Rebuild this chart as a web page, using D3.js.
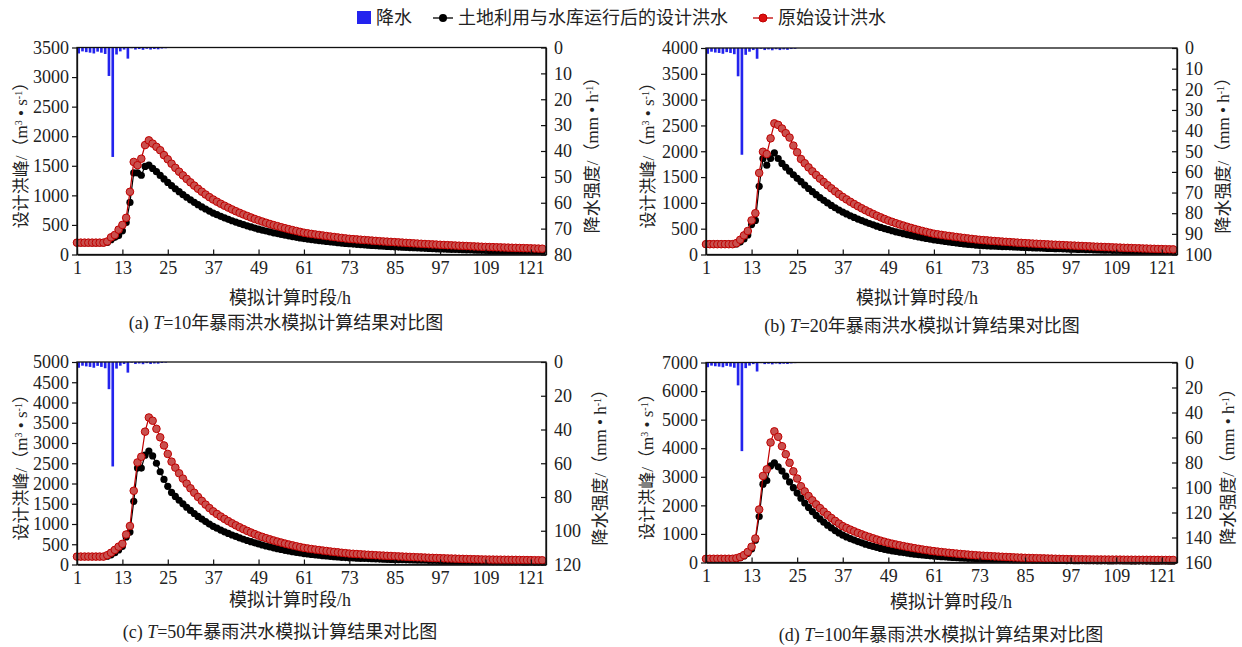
<!DOCTYPE html>
<html>
<head>
<meta charset="utf-8">
<script src="https://cdn.jsdelivr.net/npm/d3@7"></script>
<style>
body { margin: 0; background: #fff; }
svg text { font-family: "Liberation Serif", "Noto Sans CJK SC", serif; fill: #222; }
</style>
</head>
<body>
<div id="chart"></div>
<script>
//Simulation hours, one per point
var hours = [];
for (var h = 1; h <= 124; h++) hours.push(h);
var xTickValues = [1, 13, 25, 37, 49, 61, 73, 85, 97, 109, 121];

//Rain intensity per hour (mm/h), hours 1-24
var rainA = [2.3, 1.5, 1.8, 2.0, 2.3, 1.6, 2.0, 2.5, 11.0, 42.3, 2.7, 1.5, 0.8, 4.3, 0.3, 0.8, 0.6, 0.9, 0.5, 0.8, 0.6, 0.7, 0.4, 0.3];
var rainB = [2.8, 1.8, 2.2, 2.4, 2.8, 2.0, 2.4, 3.0, 13.7, 51.7, 3.3, 1.8, 1.0, 5.2, 0.4, 1.0, 0.7, 1.1, 0.6, 1.0, 0.7, 0.9, 0.5, 0.4];
var rainC = [3.4, 2.2, 2.6, 2.9, 3.4, 2.3, 2.9, 3.7, 16.1, 61.9, 3.9, 2.2, 1.2, 6.3, 0.4, 1.2, 0.9, 1.3, 0.7, 1.2, 0.9, 1.0, 0.6, 0.4];
var rainD = [3.8, 2.5, 3.0, 3.3, 3.8, 2.7, 3.3, 4.2, 18.3, 70.9, 4.5, 2.5, 1.3, 7.2, 0.5, 1.3, 1.0, 1.5, 0.8, 1.3, 1.0, 1.2, 0.7, 0.5];

//Original design flood (red) and flood after land use + reservoirs (black), m3/s
var flowOrigA = [200,200,200,200,200,200,200,200,
 220,290,330,420,500,620,
 1060,1565,1510,1620,1850,1930,
 1875,1820,1763,1680,1610,1535,
 1465,1400,1338,1278,1220,1165,1112,1062,1014,970,930,
 893,858,825,793,762,732,704,677,651,626,601,578,
 557,536,516,497,479,461,444,428,412,397,382,368,
 358,348,339,330,321,312,304,296,288,280,272,265,
 260,255,250,245,240,235,230,225,221,217,213,209,
 205,201,197,193,189,185,181,177,174,171,168,164,
 161,158,155,152,149,146,143,140,137,134,131,128,
 126,124,122,120,118,116,114,112,110,108,106,104,102,100,98];
var flowLandA = [200,200,200,200,200,200,200,200,
 205,250,290,320,400,540,
 880,1380,1380,1340,1490,1510,
 1455,1400,1337,1277,1219,1164,
 1112,1062,1014,968,925,883,843,805,769,734,701,
 673,646,620,595,571,548,526,505,485,466,447,429,
 413,397,382,367,353,340,327,315,303,291,280,269,
 260,252,244,236,228,221,214,207,200,194,188,182,
 177,172,167,162,157,153,149,145,141,137,133,129,
 126,123,120,117,114,111,108,105,102,99,96,93,
 91,89,87,85,83,81,79,77,75,73,71,69,
 68,67,66,65,64,63,62,61,60,59,58,57,56,55,54];

var flowOrigB = [200,200,200,200,200,200,200,200,
 220,285,370,455,660,800,
 1580,1990,1945,2250,2540,2510,
 2440,2350,2265,2110,1980,1850,
 1767,1687,1611,1539,1470,1404,1341,1281,1223,1168,1115,
 1067,1021,977,935,895,857,820,785,751,719,688,658,
 632,606,582,559,536,515,494,474,455,437,419,402,
 391,380,369,359,349,339,329,320,311,302,293,285,
 279,273,267,261,256,250,245,240,235,230,225,220,
 216,212,208,204,200,196,192,189,185,182,178,175,
 172,168,165,161,158,154,151,148,145,142,139,136,
 133,130,128,125,122,120,117,115,112,110,107,105,103,101,99];
var flowLandB = [200,200,200,200,200,200,200,200,
 205,240,300,380,580,660,
 1320,1860,1730,1860,1970,1860,
 1765,1690,1615,1545,1475,1410,
 1342,1278,1217,1158,1103,1050,999,951,906,862,821,
 785,751,718,687,657,628,600,574,549,525,502,480,
 460,440,421,403,386,370,354,339,325,311,298,285,
 274,263,252,242,232,223,214,205,197,189,182,175,
 171,168,164,161,157,154,151,148,145,142,139,136,
 133,130,127,124,121,118,116,113,111,109,106,104,
 102,99,97,95,92,90,88,86,84,82,80,78,
 77,76,75,74,73,72,71,70,69,68,67,66,65,64,63];

var flowOrigC = [195,195,195,195,195,195,195,195,
 230,290,360,440,510,740,
 950,1820,2520,2660,3280,3630,
 3550,3350,3140,2940,2730,2540,
 2392,2252,2121,1997,1881,1771,1668,1571,1479,1393,1312,
 1247,1185,1126,1070,1017,967,919,873,830,789,750,713,
 681,650,621,593,566,541,516,493,471,450,429,410,
 396,382,369,357,344,333,321,310,300,289,280,270,
 264,258,252,246,240,235,229,224,219,214,210,205,
 200,196,192,187,183,179,175,171,167,163,160,156,
 153,150,147,144,141,138,135,132,130,128,125,123,
 121,120,119,118,117,116,115,114,112,110,109,107,106,105,104];
var flowLandC = [195,195,195,195,195,195,195,195,
 205,240,290,360,450,680,
 800,1560,2380,2380,2700,2800,
 2680,2500,2290,2100,1930,1780,
 1680,1586,1497,1413,1334,1259,1188,1122,1059,999,943,
 896,851,808,767,729,692,657,624,593,563,535,508,
 482,457,434,412,390,370,351,333,316,300,285,270,
 259,248,238,229,219,210,202,194,186,178,171,164,
 160,156,153,149,146,142,139,135,132,129,126,123,
 121,119,116,114,112,110,108,106,104,102,100,98,
 96,94,92,90,88,86,84,82,80,78,76,74,
 73,72,71,70,69,68,67,66,65,64,63,62,61,60,59];

var flowOrigD = [130,130,130,130,130,130,130,130,
 150,190,260,370,550,840,
 1855,3030,3260,4200,4590,4400,
 4070,3790,3490,3190,2940,2670,
 2488,2327,2176,2035,1903,1780,1665,1557,1456,1362,1272,
 1209,1149,1091,1037,985,936,890,845,803,763,725,689,
 658,628,600,573,547,523,499,477,455,435,415,397,
 381,366,352,338,325,312,300,288,276,265,255,245,
 237,229,221,214,207,200,193,187,180,174,169,163,
 159,155,151,147,143,139,135,131,127,124,120,117,
 115,113,111,109,108,106,105,104,103,102,101,100,
 99,98,97,97,96,95,94,93,93,92,91,90,89,89,88];
var flowLandD = [130,130,130,130,130,130,130,130,
 140,170,230,320,470,780,
 1610,2740,2870,3380,3490,3350,
 3200,3020,2820,2620,2430,2250,
 2082,1926,1782,1649,1526,1412,1306,1209,1118,1035,957,
 896,838,785,734,687,643,602,563,527,494,462,432,
 409,387,366,346,327,310,293,277,262,248,235,222,
 212,202,193,185,176,168,161,154,147,140,134,128,
 125,121,118,115,112,109,106,103,100,97,94,90,
 88,86,84,82,80,78,76,74,72,70,68,66,
 65,64,63,62,61,60,59,58,57,56,55,54,
 53,52,52,51,51,50,50,49,49,48,48,47,47,46,46];

//Axis ticks per panel
var flowTicksA = [0,500,1000,1500,2000,2500,3000,3500];
var flowTicksB = [0,500,1000,1500,2000,2500,3000,3500,4000];
var flowTicksC = [0,500,1000,1500,2000,2500,3000,3500,4000,4500,5000];
var flowTicksD = [0,1000,2000,3000,4000,5000,6000,7000];
var rainTicksA = [0,10,20,30,40,50,60,70,80];
var rainTicksB = [0,10,20,30,40,50,60,70,80,90,100];
var rainTicksC = [0,20,40,60,80,100,120];
var rainTicksD = [0,20,40,60,80,100,120,140,160];

var captions = ["(a) ", "(b) ", "(c) ", "(d) "];
var returnPeriods = ["10", "20", "50", "100"];

var blueColor = "#2323ee";
var redLine = "#c00000";
var redFill = "#c9504e";

var svg = d3.select("#chart").append("svg")
	.attr("width", 1242)
	.attr("height", 647);

//Panel layout (pixel boxes)
var panels = [
	{left: 77, right: 546, top: 47.5, bottom: 254.5, rain: rainA, orig: flowOrigA, land: flowLandA,
	 flowTicks: flowTicksA, rainTicks: rainTicksA, yTitleL: 21, yTitleR: 592, xTitleX: 290, xTitleY: 304, capX: 286, capY: 329},
	{left: 706, right: 1177, top: 48, bottom: 254.5, rain: rainB, orig: flowOrigB, land: flowLandB,
	 flowTicks: flowTicksB, rainTicks: rainTicksB, yTitleL: 648, yTitleR: 1223, xTitleX: 917, xTitleY: 304, capX: 922, capY: 332},
	{left: 77, right: 546, top: 362, bottom: 564.5, rain: rainC, orig: flowOrigC, land: flowLandC,
	 flowTicks: flowTicksC, rainTicks: rainTicksC, yTitleL: 21, yTitleR: 600, xTitleX: 290, xTitleY: 606, capX: 280, capY: 638},
	{left: 706, right: 1177, top: 362.5, bottom: 562.5, rain: rainD, orig: flowOrigD, land: flowLandD,
	 flowTicks: flowTicksD, rainTicks: rainTicksD, yTitleL: 647, yTitleR: 1228, xTitleX: 951, xTitleY: 608, capX: 941, capY: 641}
];

function drawPanel(p, idx)
{
	var x = d3.scaleLinear().domain([1, 125]).range([p.left, p.right]);
	var yFlow = d3.scaleLinear().domain([0, d3.max(p.flowTicks)]).range([p.bottom, p.top]);
	var yRain = d3.scaleLinear().domain([0, d3.max(p.rainTicks)]).range([p.top, p.bottom]);
	var step = x(2) - x(1);
	var g = svg.append("g");

	//Rain bars hang from the top
	g.selectAll(".rainBar")
		.data(p.rain)
		.enter()
		.append("rect")
		.attr("class", "rainBar")
		.attr("x", function(d, i){ return x(hours[i]) + step * 0.1; })
		.attr("y", p.top)
		.attr("width", step * 0.7)
		.attr("height", function(d){ return yRain(d) - p.top; })
		.attr("fill", blueColor);

	var line = d3.line()
		.x(function(d, i){ return x(hours[i]); })
		.y(function(d){ return yFlow(d); });

	//Black series first, red on top
	g.append("path")
		.datum(p.land)
		.attr("fill", "none")
		.attr("stroke", "#000")
		.attr("stroke-width", 1.2)
		.attr("d", line);
	g.selectAll(".landDot")
		.data(p.land)
		.enter()
		.append("circle")
		.attr("class", "landDot")
		.attr("cx", function(d, i){ return x(hours[i]); })
		.attr("cy", function(d){ return yFlow(d); })
		.attr("r", 3.6)
		.attr("fill", "#000");

	g.append("path")
		.datum(p.orig)
		.attr("fill", "none")
		.attr("stroke", redLine)
		.attr("stroke-width", 1.2)
		.attr("d", line);
	g.selectAll(".origDot")
		.data(p.orig)
		.enter()
		.append("circle")
		.attr("class", "origDot")
		.attr("cx", function(d, i){ return x(hours[i]); })
		.attr("cy", function(d){ return yFlow(d); })
		.attr("r", 3.8)
		.attr("fill", redFill)
		.attr("stroke", redLine)
		.attr("stroke-width", 1);

	//Frame
	g.append("rect")
		.attr("x", p.left)
		.attr("y", p.top)
		.attr("width", p.right - p.left)
		.attr("height", p.bottom - p.top)
		.attr("fill", "none")
		.attr("stroke", "#111")
		.attr("stroke-width", 1.3);

	//Axes
	var fmt = d3.format("d");
	var axL = g.append("g")
		.attr("transform", "translate(" + p.left + ",0)")
		.call(d3.axisLeft(yFlow).tickValues(p.flowTicks).tickFormat(fmt).tickSize(5).tickSizeOuter(0).tickPadding(3));
	var axR = g.append("g")
		.attr("transform", "translate(" + p.right + ",0)")
		.call(d3.axisRight(yRain).tickValues(p.rainTicks).tickFormat(fmt).tickSize(-5).tickSizeOuter(0).tickPadding(8));
	var axB = g.append("g")
		.attr("transform", "translate(0," + p.bottom + ")")
		.call(d3.axisBottom(x).tickValues(xTickValues).tickFormat(fmt).tickSize(-5).tickSizeOuter(0).tickPadding(7));

	[axL, axR, axB].forEach(function(ax){
		ax.select(".domain").attr("stroke", "#111").attr("stroke-width", 1.3);
		ax.selectAll(".tick line").attr("stroke", "#111").attr("stroke-width", 1.2);
		ax.selectAll(".tick text")
			.style("font-family", "'Liberation Serif', serif")
			.style("font-size", "18px")
			.attr("fill", "#222");
	});

	var midY = (p.top + p.bottom) / 2;

	//Left axis title
	var tl = g.append("text")
		.attr("transform", "translate(" + p.yTitleL + "," + midY + ") rotate(-90)")
		.attr("text-anchor", "middle")
		.attr("dy", "0.35em")
		.style("font-size", "17px");
	tl.append("tspan").text("设计洪峰/（m");
	tl.append("tspan").attr("baseline-shift", "super").style("font-size", "10px").text("3");
	tl.append("tspan").text(" • s");
	tl.append("tspan").attr("baseline-shift", "super").style("font-size", "10px").text("-1");
	tl.append("tspan").text("）");

	//Right axis title
	var tr = g.append("text")
		.attr("transform", "translate(" + p.yTitleR + "," + midY + ") rotate(-90)")
		.attr("text-anchor", "middle")
		.attr("dy", "0.35em")
		.style("font-size", "17px");
	tr.append("tspan").text("降水强度/（mm • h");
	tr.append("tspan").attr("baseline-shift", "super").style("font-size", "10px").text("-1");
	tr.append("tspan").text("）");

	//X axis title
	g.append("text")
		.attr("x", p.xTitleX)
		.attr("y", p.xTitleY)
		.attr("text-anchor", "middle")
		.style("font-size", "18px")
		.text("模拟计算时段/h");

	//Caption
	var cap = g.append("text")
		.attr("x", p.capX)
		.attr("y", p.capY)
		.attr("text-anchor", "middle")
		.style("font-size", "18px");
	cap.append("tspan").text(captions[idx]);
	cap.append("tspan").style("font-style", "italic").text("T");
	cap.append("tspan").text("=" + returnPeriods[idx] + "年暴雨洪水模拟计算结果对比图");
}

panels.forEach(drawPanel);

//Legend on top
var legend = svg.append("g").style("font-size", "18px");
legend.append("rect")
	.attr("x", 357).attr("y", 11).attr("width", 14).attr("height", 13)
	.attr("fill", blueColor);
legend.append("text").attr("x", 376).attr("y", 24).text("降水");

legend.append("line")
	.attr("x1", 433).attr("x2", 453).attr("y1", 18).attr("y2", 18)
	.attr("stroke", "#000").attr("stroke-width", 1.3);
legend.append("circle")
	.attr("cx", 443).attr("cy", 18).attr("r", 4).attr("fill", "#000");
legend.append("text").attr("x", 458).attr("y", 24).text("土地利用与水库运行后的设计洪水");

legend.append("line")
	.attr("x1", 753).attr("x2", 773).attr("y1", 18).attr("y2", 18)
	.attr("stroke", redLine).attr("stroke-width", 1.3);
legend.append("circle")
	.attr("cx", 763).attr("cy", 18).attr("r", 4)
	.attr("fill", "#dd1111").attr("stroke", redLine);
legend.append("text").attr("x", 778).attr("y", 24).text("原始设计洪水");
</script>
</body>
</html>
